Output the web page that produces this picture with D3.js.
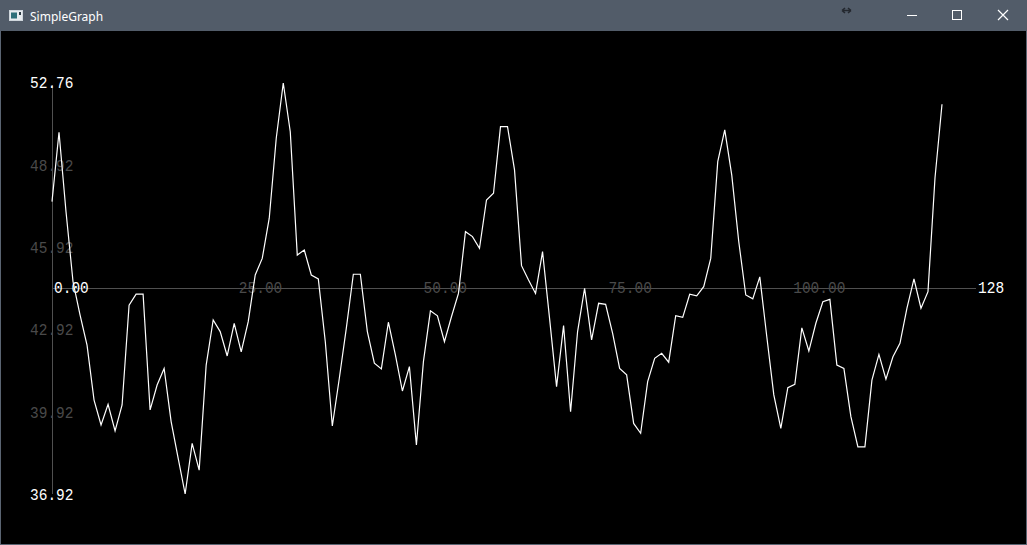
<!DOCTYPE html>
<html><head><meta charset="utf-8">
<script src="https://cdn.jsdelivr.net/npm/d3@7"></script>
<style>html,body{margin:0;padding:0;background:#000;overflow:hidden}</style>
</head><body><script>
const windowTitle = "SimpleGraph";
const values = [
  48.19, 50.86, 47.80, 45.10, 43.82, 42.66, 40.54, 39.58, 40.38, 39.35,
  40.35, 44.20, 44.62, 44.62, 40.16, 41.12, 41.76, 39.71, 38.30, 36.92,
  38.87, 37.84, 41.89, 43.63, 43.18, 42.24, 43.50, 42.40, 43.56, 45.36,
  46.00, 47.55, 50.63, 52.76, 50.88, 46.13, 46.32, 45.36, 45.21, 42.79,
  39.54, 41.38, 43.31, 45.39, 45.39, 43.18, 41.96, 41.74, 43.54, 42.28,
  40.89, 41.83, 38.81, 42.02, 43.98, 43.79, 42.79, 43.75, 44.65, 47.03,
  46.84, 46.39, 48.25, 48.51, 51.08, 51.08, 49.41, 45.72, 45.17, 44.65,
  46.26, 43.69, 41.06, 43.41, 40.09, 43.18, 44.85, 42.86, 44.27, 44.23,
  43.11, 41.76, 41.51, 39.64, 39.26, 41.25, 42.15, 42.34, 42.00, 43.79,
  43.73, 44.62, 44.56, 44.91, 46.00, 49.73, 50.95, 49.21, 46.64, 44.59,
  44.44, 45.29, 42.98, 40.74, 39.45, 41.02, 41.15, 43.32, 42.43, 43.50,
  44.33, 44.42, 41.89, 41.76, 39.90, 38.74, 38.74, 41.31, 42.30, 41.35,
  42.21, 42.73, 44.08, 45.21, 44.08, 44.72, 49.10, 51.94
];
const xTickLabels = ["0.00", "25.00", "50.00", "75.00", "100.00", "128"];
const yTickLabels = ["52.76", "48.92", "45.92", "42.92", "39.92", "36.92"];

const W = 1027, H = 545;
const svg = d3.select("body").append("svg").attr("width", W).attr("height", H)
  .style("display", "block");

// window frame
svg.append("rect").attr("x", 0).attr("y", 0).attr("width", W).attr("height", H).attr("fill", "#5a6472");
svg.append("rect").attr("x", 0).attr("y", 0).attr("width", W).attr("height", 31).attr("fill", "#525c69");
svg.append("rect").attr("x", 1).attr("y", 31).attr("width", W - 2).attr("height", H - 32).attr("fill", "#000");

// title bar contents
const tb = svg.append("g");
tb.append("rect").attr("x", 9.5).attr("y", 10.5).attr("width", 13).attr("height", 10)
  .attr("fill", "#e8ecef").attr("stroke", "#cfd6dc");
tb.append("rect").attr("x", 11).attr("y", 12.5).attr("width", 6).attr("height", 6).attr("fill", "#2f6f79");
tb.append("rect").attr("x", 19).attr("y", 12).attr("width", 2).attr("height", 3).attr("fill", "#2d3b44");
tb.append("text").attr("x", 30).attr("y", 20.5).text(windowTitle)
  .attr("fill", "#ffffff").attr("font-family", "'Noto Sans', 'Open Sans', sans-serif").attr("font-size", 12);
// resize arrow
tb.append("path").attr("d", "M842,10.5 L851,10.5 M842,10.5 l3,-2.5 M842,10.5 l3,2.5 M851,10.5 l-3,-2.5 M851,10.5 l-3,2.5")
  .attr("stroke", "#23272e").attr("stroke-width", 1.6).attr("fill", "none");
// min / max / close
tb.append("path").attr("d", "M907,15.5 H917").attr("stroke", "#fff").attr("stroke-width", 1);
tb.append("rect").attr("x", 952.5).attr("y", 10.5).attr("width", 9).attr("height", 9)
  .attr("fill", "none").attr("stroke", "#fff").attr("stroke-width", 1);
tb.append("path").attr("d", "M998,10 L1008,20 M1008,10 L998,20").attr("stroke", "#fff").attr("stroke-width", 1.2);

// scales
const x = d3.scaleLinear().domain([0, values.length - 1]).range([52, 942]);
const y = d3.scaleLinear().domain([d3.min(values), d3.max(values)]).range([494, 83]);
const xLab = d3.scalePoint().domain(d3.range(xTickLabels.length)).range([52, 976]);
const yLab = d3.scalePoint().domain(d3.range(yTickLabels.length)).range([84, 495.5]);
const midY = (yLab(0) + yLab(yTickLabels.length - 1)) / 2;

const axisColor = "#505050", dimText = "#4a4a4a";
const g = svg.append("g");
g.append("line").attr("x1", 52.5).attr("x2", 52.5).attr("y1", 85).attr("y2", 494)
  .attr("stroke", axisColor).attr("stroke-width", 1).attr("shape-rendering", "crispEdges");
g.append("line").attr("x1", 52).attr("x2", xLab(xTickLabels.length - 1)).attr("y1", 288.5).attr("y2", 288.5)
  .attr("stroke", axisColor).attr("stroke-width", 1).attr("shape-rendering", "crispEdges");

const fontFam = "'Liberation Mono', 'DejaVu Sans Mono', monospace";
g.selectAll("text.yl").data(yTickLabels).join("text").attr("class", "yl")
  .attr("transform", (d, i) => `translate(30,${yLab(i)}) scale(1,1.2)`)
  .attr("dominant-baseline", "central")
  .attr("font-family", fontFam).attr("font-size", 14.5)
  .attr("fill", (d, i) => (i === 0 || i === yTickLabels.length - 1) ? "#ffffff" : dimText)
  .text(d => d);

g.selectAll("text.xl").data(xTickLabels).join("text").attr("class", "xl")
  .attr("transform", (d, i) => `translate(${xLab(i) + 2},${289}) scale(1,1.2)`)
  .attr("dominant-baseline", "central")
  .attr("font-family", fontFam).attr("font-size", 14.5)
  .attr("fill", (d, i) => (i === 0 || i === xTickLabels.length - 1) ? "#ffffff" : dimText)
  .text(d => d);

const line = d3.line().x((d, i) => x(i)).y(d => y(d));
g.append("path").datum(values).attr("d", line)
  .attr("fill", "none").attr("stroke", "#ffffff").attr("stroke-width", 1.2);
</script></body></html>
